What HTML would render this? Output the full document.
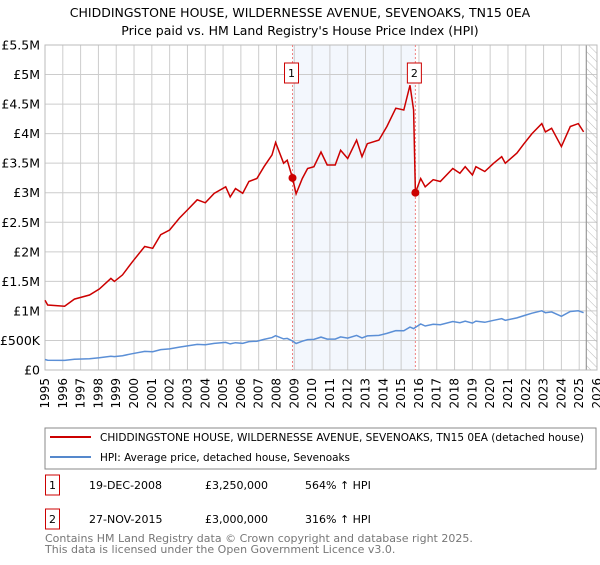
<!DOCTYPE html>
<html><head><meta charset="utf-8"><style>
body{margin:0;background:#fff;font-family:"Liberation Sans","DejaVu Sans",sans-serif;}
svg text{font-family:"DejaVu Sans","Liberation Sans",sans-serif;}
</style></head><body>
<svg id="c" width="600" height="560" xmlns="http://www.w3.org/2000/svg">
<defs><pattern id="hatch" width="6" height="6" patternUnits="userSpaceOnUse" patternTransform="rotate(-45)"><line x1="0" y1="0" x2="0" y2="6" stroke="#bbb" stroke-width="1"/></pattern></defs>
<text x="300" y="17" text-anchor="middle" font-size="12.5">CHIDDINGSTONE HOUSE, WILDERNESSE AVENUE, SEVENOAKS, TN15 0EA</text>
<text x="300" y="35" text-anchor="middle" font-size="12.5">Price paid vs. HM Land Registry's House Price Index (HPI)</text>
<g id="plot"></g>
<rect x="45" y="428" width="551" height="41" fill="#fff" stroke="#888"/>
<line x1="50" y1="437" x2="91" y2="437" stroke="#cc0000" stroke-width="2"/>
<text x="100" y="441" font-size="11" textLength="484" lengthAdjust="spacingAndGlyphs">CHIDDINGSTONE HOUSE, WILDERNESSE AVENUE, SEVENOAKS, TN15 0EA (detached house)</text>
<line x1="50" y1="457" x2="91" y2="457" stroke="#5588cc" stroke-width="2"/>
<text x="100" y="461" font-size="11" textLength="250" lengthAdjust="spacingAndGlyphs">HPI: Average price, detached house, Sevenoaks</text>
<g font-size="11">
<rect x="45.5" y="475" width="14" height="20" fill="#fff" stroke="#cc0000"/>
<text x="52.5" y="489" text-anchor="middle">1</text>
<text x="89" y="489">19-DEC-2008</text>
<text x="205" y="489">£3,250,000</text>
<text x="305" y="489">564% ↑ HPI</text>
<rect x="45.5" y="509" width="14" height="20" fill="#fff" stroke="#cc0000"/>
<text x="52.5" y="523" text-anchor="middle">2</text>
<text x="89" y="523">27-NOV-2015</text>
<text x="205" y="523">£3,000,000</text>
<text x="305" y="523">316% ↑ HPI</text>
</g>
<text x="45" y="542" font-size="11" fill="#777">Contains HM Land Registry data © Crown copyright and database right 2025.</text>
<text x="45" y="553" font-size="11" fill="#777">This data is licensed under the Open Government Licence v3.0.</text>
</svg>
<script>
const years=[1995.0,1995.15,1996.1,1996.65,1997.5,1998.05,1998.7,1998.9,1999.35,1999.9,2000.6,2001.05,2001.5,2002.0,2002.55,2003.0,2003.55,2004.0,2004.5,2005.15,2005.4,2005.7,2006.1,2006.45,2006.9,2007.3,2007.75,2007.95,2008.4,2008.6,2008.9,2009.1,2009.45,2009.75,2010.1,2010.5,2010.85,2011.3,2011.6,2012.0,2012.5,2012.8,2013.1,2013.75,2014.2,2014.7,2015.15,2015.5,2015.7,2015.8,2016.1,2016.35,2016.8,2017.2,2017.9,2018.3,2018.6,2019.0,2019.2,2019.7,2020.2,2020.65,2020.85,2021.5,2021.9,2022.35,2022.9,2023.1,2023.45,2024.0,2024.5,2024.95,2025.25];
const propertyValues=[1.18,1.10,1.08,1.2,1.27,1.37,1.55,1.5,1.61,1.83,2.09,2.06,2.29,2.37,2.57,2.71,2.88,2.83,2.99,3.10,2.93,3.07,2.99,3.19,3.24,3.44,3.64,3.85,3.50,3.55,3.25,2.98,3.24,3.41,3.44,3.69,3.47,3.47,3.72,3.58,3.89,3.61,3.83,3.89,4.12,4.43,4.40,4.82,4.40,3.0,3.24,3.10,3.22,3.19,3.41,3.33,3.44,3.30,3.44,3.36,3.50,3.61,3.50,3.67,3.83,4.00,4.17,4.03,4.09,3.78,4.12,4.17,4.03];
const hpiValues=[.178,.166,.163,.181,.191,.206,.233,.226,.242,.276,.315,.310,.345,.357,.387,.408,.434,.426,.450,.467,.441,.462,.450,.480,.488,.518,.548,.580,.527,.535,.490,.449,.488,.514,.518,.556,.523,.523,.560,.539,.586,.544,.577,.586,.620,.667,.663,.726,.700,.721,.779,.745,.774,.767,.820,.800,.827,.793,.827,.808,.841,.868,.841,.882,.921,.962,1.002,.969,.983,.909,.990,1.002,.969];
const yTicks=[0,0.5,1,1.5,2,2.5,3,3.5,4,4.5,5,5.5];
const yTickLabels=["£0","£500K","£1M","£1.5M","£2M","£2.5M","£3M","£3.5M","£4M","£4.5M","£5M","£5.5M"];
const saleYears=[2008.9,2015.8];
const saleValues=[3.25,3.0];
const saleLabels=["1","2"];
const dataEndYear=2025.4;
const NS="http://www.w3.org/2000/svg";
const X0=45,X1=597,Y0=370,Y1=45;
const xs=y=>X0+(y-1995)/(2026-1995)*(X1-X0);
const ys=v=>Y0-v/5.5*(Y0-Y1);
const g=document.getElementById('plot');
function mk(t,a){const e=document.createElementNS(NS,t);for(const k in a)e.setAttribute(k,a[k]);g.appendChild(e);return e;}
let e=mk('rect',{x:X0,y:Y1,width:X1-X0,height:Y0-Y1,fill:'#fff'});


e=mk('rect',{x:xs(saleYears[0]),y:Y1,width:xs(saleYears[1])-xs(saleYears[0]),height:Y0-Y1,fill:'#eef3fc',opacity:0.7});


for(let yr=1995;yr<=2026;yr++){
 e=mk('line',{x1:xs(yr),x2:xs(yr),y1:Y1,y2:Y0,stroke:'#ccc','stroke-width':1});
 
 
 const t=mk('text',{x:0,y:0,'font-size':12,'text-anchor':'end',transform:`translate(${xs(yr)+4},${Y0+8}) rotate(-90)`});
 t.textContent=yr;
 
 
}
yTicks.forEach((v,i)=>{
 e=mk('line',{x1:X0,x2:X1,y1:ys(v),y2:ys(v),stroke:'#ccc','stroke-width':1});
 
 
 const t=mk('text',{x:40,y:ys(v)+4.5,'font-size':12.5,'text-anchor':'end'});
 t.textContent=yTickLabels[i];
 
 
});
e=mk('rect',{x:xs(dataEndYear),y:Y1,width:X1-xs(dataEndYear),height:Y0-Y1,fill:'url(#hatch)'});


e=mk('line',{x1:xs(dataEndYear),x2:xs(dataEndYear),y1:Y1,y2:Y0,stroke:'#999','stroke-width':1.2});


e=mk('rect',{x:X0,y:Y1,width:X1-X0,height:Y0-Y1,fill:'none',stroke:'#bbb'});


saleYears.forEach((yr,i)=>{
 e=mk('line',{x1:xs(yr),x2:xs(yr),y1:Y1,y2:Y0,stroke:'#f08080','stroke-dasharray':'2,2'});
 
 
});
const pts=a=>years.map((y,i)=>xs(y).toFixed(1)+','+ys(a[i]).toFixed(1)).join(' ');
e=mk('polyline',{points:pts(hpiValues),fill:'none',stroke:'#5b8fd6','stroke-width':1.5});


e=mk('polyline',{points:pts(propertyValues),fill:'none',stroke:'#cc0000','stroke-width':1.5});


saleYears.forEach((yr,i)=>{
 e=mk('circle',{cx:xs(yr),cy:ys(saleValues[i]),r:4,fill:'#cc0000'});
 
 
 e=mk('rect',{x:xs(yr)-8,y:63,width:14,height:20,fill:'#fff',stroke:'#cc0000'});
 
 
 const t=mk('text',{x:xs(yr)-1,y:77,'font-size':11,'text-anchor':'middle'});
 t.textContent=saleLabels[i];
 
 
});
</script>
</body></html>
